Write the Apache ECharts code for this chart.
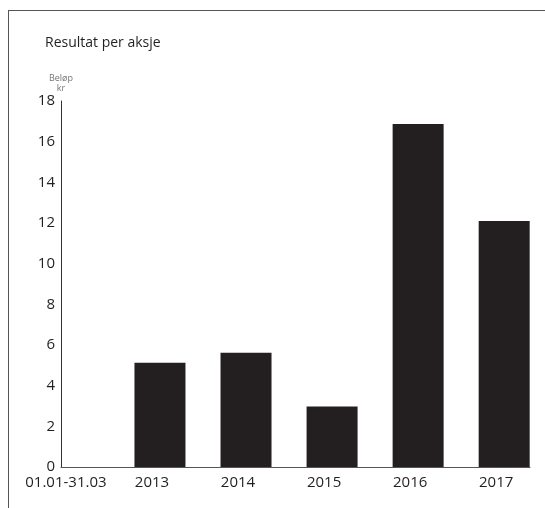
<!DOCTYPE html>
<html>
<head>
<meta charset="utf-8">
<script src="https://cdn.jsdelivr.net/npm/echarts@6/dist/echarts.min.js"></script>
<style>
  html, body { margin: 0; padding: 0; background: #fff; }
  #chart { width: 545px; height: 508px; }
  #frame {
    position: absolute; left: 8px; top: 10px; width: 560px; height: 520px;
    border-left: 1px solid #555; border-top: 1px solid #555;
    pointer-events: none;
  }
</style>
</head>
<body>
<div id="chart"></div>
<div id="frame"></div>
<script>
// kategorier og verdier (resultat per aksje, kr)
const categories = ['01.01-31.03', '2013', '2014', '2015', '2016', '2017'];
const values = [null, 5.13, 5.62, 2.97, 16.87, 12.1];
const yTicks = { min: 0, max: 18, interval: 2 };

const font = '"Open Sans", sans-serif';
const ink = '#231f20';

const chart = echarts.init(document.getElementById('chart'));

chart.setOption({
  backgroundColor: '#ffffff',
  animation: false,
  title: {
    text: 'Resultat per aksje',
    left: 45,
    top: 36,
    padding: 0,
    textStyle: { fontFamily: font, fontSize: 14, fontWeight: 'normal', color: ink }
  },
  grid: { left: 61, right: 15, top: 101, bottom: 41, containLabel: false, outerBoundsMode: 'none' },
  xAxis: {
    type: 'value',
    min: -0.15,
    max: 5.3,
    splitLine: { show: false },
    axisTick: { show: false },
    axisLine: { show: true, onZero: false, lineStyle: { color: '#555', width: 1 } },
    axisLabel: {
      customValues: categories.map((c, i) => i),
      formatter: v => categories[Math.round(v)],
      fontFamily: font,
      fontSize: 15,
      color: ink,
      margin: 8,
      padding: [0, 16, 0, 0]
    }
  },
  yAxis: {
    type: 'value',
    min: yTicks.min,
    max: yTicks.max,
    interval: yTicks.interval,
    name: 'Beløp\nkr',
    nameLocation: 'end',
    nameGap: 3,
    nameTextStyle: { fontFamily: font, fontSize: 9, color: '#777', align: 'center', lineHeight: 10 },
    splitLine: { show: false },
    axisTick: { show: false },
    axisLine: { show: true, onZero: false, lineStyle: { color: '#333', width: 1 } },
    axisLabel: { fontFamily: font, fontSize: 15, color: ink, margin: 6 }
  },
  series: [{
    type: 'bar',
    barWidth: 51,
    itemStyle: { color: ink },
    data: values.map((v, i) => [i, v])
  }]
});
</script>
</body>
</html>
